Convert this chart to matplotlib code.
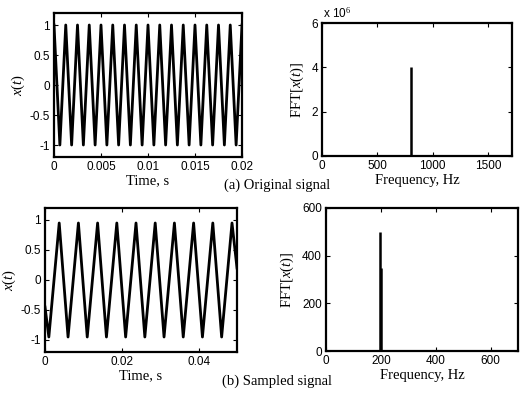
import matplotlib
matplotlib.use("Agg")
import matplotlib.pyplot as plt
from matplotlib.ticker import FuncFormatter

# ---------------- data ----------------
orig_t = [0.0, 0.000625, 0.00125, 0.001875, 0.0025, 0.003125, 0.00375, 0.004375,
          0.005, 0.005625, 0.00625, 0.006875, 0.0075, 0.008125, 0.00875, 0.009375,
          0.01, 0.010625, 0.01125, 0.011875, 0.0125, 0.013125, 0.01375, 0.014375,
          0.015, 0.015625, 0.01625, 0.016875, 0.0175, 0.018125, 0.01875, 0.019375, 0.02]
orig_x = [1, -1, 1, -1, 1, -1, 1, -1, 1, -1, 1, -1, 1, -1, 1, -1,
          1, -1, 1, -1, 1, -1, 1, -1, 1, -1, 1, -1, 1, -1, 1, -1, 1]

orig_freq = [805]
orig_fft = [4.0e6]

samp_t = [0.0, 0.001, 0.0037, 0.006, 0.0087, 0.011, 0.0137, 0.016, 0.0187, 0.021,
          0.0237, 0.026, 0.0287, 0.031, 0.0337, 0.036, 0.0387, 0.041, 0.0437,
          0.046, 0.0487, 0.05]
samp_x = [-0.45, -0.95, 0.95, -0.95, 0.95, -0.95, 0.95, -0.95, 0.95, -0.95,
          0.95, -0.95, 0.95, -0.95, 0.95, -0.95, 0.95, -0.95, 0.95,
          -0.95, 0.95, 0.2]

samp_freq = [196, 201]
samp_fft = [500, 350]

tl_xticks = [0, 0.005, 0.01, 0.015, 0.02]
tl_xlabels = ["0", "0.005", "0.01", "0.015", "0.02"]
sig_yticks = [-1, -0.5, 0, 0.5, 1]
sig_ylabels = ["-1", "-0.5", "0", "0.5", "1"]
bl_xticks = [0, 0.02, 0.04]
bl_xlabels = ["0", "0.02", "0.04"]
tr_xticks = [0, 500, 1000, 1500]
tr_yticks = [0, 2e6, 4e6, 6e6]
br_xticks = [0, 200, 400, 600]
br_yticks = [0, 200, 400, 600]

# ---------------- style ----------------
plt.rcParams['mathtext.fontset'] = 'custom'
plt.rcParams['mathtext.rm'] = 'Liberation Serif'
plt.rcParams['mathtext.it'] = 'Liberation Serif:italic'

W, H = 525, 395
fig = plt.figure(figsize=(W / 100, H / 100), dpi=100)

label_font = dict(family='Liberation Serif', size=10.5)

def box(l, r, t, b):
    return [l / W, 1 - b / H, (r - l) / W, (b - t) / H]

def style(ax):
    for s in ax.spines.values():
        s.set_linewidth(1.6)
    ax.tick_params(direction='in', top=True, right=True, length=3, width=0.8,
                   pad=3, labelsize=8.5)
    for lab in ax.get_xticklabels() + ax.get_yticklabels():
        lab.set_fontfamily('Liberation Sans')

ax1 = fig.add_axes(box(54, 242, 13, 157))
ax2 = fig.add_axes(box(322, 512, 23, 156))
ax3 = fig.add_axes(box(45, 237, 208, 352))
ax4 = fig.add_axes(box(326, 518, 208, 351))

# (a) original signal
ax1.plot(orig_t, orig_x, color='black', lw=2.0)
ax1.set_xlim(0, 0.02)
ax1.set_ylim(-1.2, 1.2)
ax1.set_xticks(tl_xticks, tl_xlabels)
ax1.set_yticks(sig_yticks, sig_ylabels)
ax1.set_xlabel('Time, s', fontdict=label_font, labelpad=1)
ax1.set_ylabel(r'$x$($t$)', fontdict=label_font, labelpad=2)
style(ax1)

ax2.vlines(orig_freq, 0, orig_fft, color='black', lw=1.8)
ax2.set_xlim(0, 1715)
ax2.set_ylim(0, 6e6)
ax2.set_xticks(tr_xticks)
ax2.set_yticks(tr_yticks)
ax2.yaxis.set_major_formatter(FuncFormatter(lambda v, p: f"{v / 1e6:g}"))
ax2.set_xlabel('Frequency, Hz', fontdict=label_font, labelpad=1)
ax2.set_ylabel(r'FFT[$x$($t$)]', fontdict=label_font, labelpad=4)
style(ax2)
fig.text(323 / W, 1 - 13 / H, r'x 10$^{6}$', family='Liberation Sans', size=8.5,
         va='center', ha='left')

# (b) sampled signal
ax3.plot(samp_t, samp_x, color='black', lw=2.0)
ax3.set_xlim(0, 0.05)
ax3.set_ylim(-1.2, 1.2)
ax3.set_xticks(bl_xticks, bl_xlabels)
ax3.set_yticks(sig_yticks, sig_ylabels)
ax3.set_xlabel('Time, s', fontdict=label_font, labelpad=1)
ax3.set_ylabel(r'$x$($t$)', fontdict=label_font, labelpad=2)
style(ax3)

ax4.vlines(samp_freq, 0, samp_fft, color='black', lw=1.8)
ax4.set_xlim(0, 700)
ax4.set_ylim(0, 600)
ax4.set_xticks(br_xticks)
ax4.set_yticks(br_yticks)
ax4.set_xlabel('Frequency, Hz', fontdict=label_font, labelpad=1)
ax4.set_ylabel(r'FFT[$x$($t$)]', fontdict=label_font, labelpad=4)
style(ax4)

fig.text(277 / W, 1 - 185 / H, '(a) Original signal', family='Liberation Serif',
         size=10.5, ha='center', va='center')
fig.text(277 / W, 1 - 381 / H, '(b) Sampled signal', family='Liberation Serif',
         size=10.5, ha='center', va='center')

fig.savefig('out.png', dpi=100)
